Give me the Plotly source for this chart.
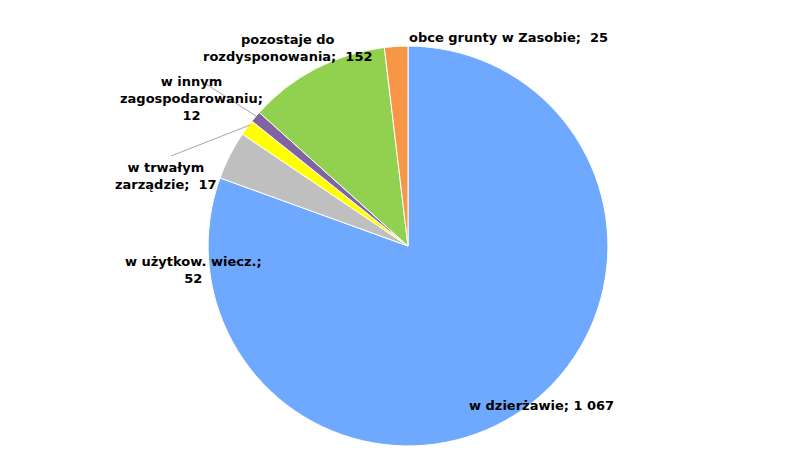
import plotly.graph_objects as go

labels = ["w dzierżawie", "w użytkow. wiecz.", "w trwałym zarządzie",
          "w innym zagospodarowaniu", "pozostaje do rozdysponowania", "obce grunty w Zasobie"]
values = [1067, 52, 17, 12, 152, 25]
texts = ["w dzierżawie; 1 067", "w użytkow. wiecz.;<br>52", "w trwałym<br>zarządzie;  17",
         "w innym<br>zagospodarowaniu;<br>12", "pozostaje do<br>rozdysponowania;  152",
         "obce grunty w Zasobie;  25"]
colors = ["#6FA8FF", "#BFBFBF", "#FFFF00", "#8064A2", "#92D050", "#F79646"]
# label centres in pixels (x, y from top)
label_pos = [(608, 407), (115, 262), (105, 150), (110, 64), (280, 22), (500, 20)]

W, H = 800, 476

fig = go.Figure(go.Pie(
    labels=labels, values=values, textinfo="none",
    sort=False, direction="clockwise", rotation=0,
    marker=dict(colors=colors, line=dict(color="white", width=1)),
    domain=dict(x=[0.25, 0.75], y=[0.08, 0.92]),
    showlegend=False, hoverinfo="label+value",
))

for t, (px, py) in zip(texts, label_pos):
    fig.add_annotation(x=px / W, y=1 - py / H, xref="paper", yref="paper",
                       text="<b>" + t + "</b>", showarrow=False, align="center",
                       font=dict(family="DejaVu Sans", size=13, color="black"))

# leader lines for the small slices
for x0, y0, x1, y1 in [(163, 148, 242, 117), (198, 76, 248, 108)]:
    fig.add_shape(type="line", xref="paper", yref="paper",
                  x0=x0 / W, y0=1 - y0 / H, x1=x1 / W, y1=1 - y1 / H,
                  line=dict(color="#A6A6A6", width=1))

fig.update_layout(width=W, height=H, margin=dict(l=0, r=0, t=0, b=0),
                  paper_bgcolor="white")
fig.write_html("out.html")
